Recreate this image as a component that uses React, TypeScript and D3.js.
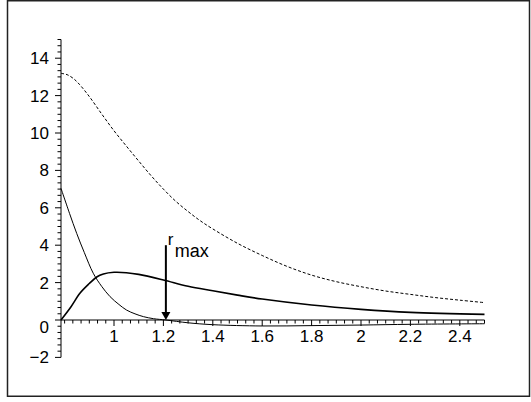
import React from "react";
import * as d3 from "d3";

const X_MIN = 0.7854;
const X_MAX = 2.5;
const Y_MIN = -2;
const Y_MAX = 15;

const xMajorTicks = [1, 1.2, 1.4, 1.6, 1.8, 2, 2.2, 2.4];
const xTickLabels = ["1", "1.2", "1.4", "1.6", "1.8", "2", "2.2", "2.4"];
const yMajorTicks = [-2, 0, 2, 4, 6, 8, 10, 12, 14];
const yTickLabels = ["\u22122", "0", "2", "4", "6", "8", "10", "12", "14"];

// dashed curve
const dashedX = [0.7854, 0.81, 0.835, 0.86, 0.9, 0.95, 1.0, 1.05, 1.1, 1.15, 1.2, 1.25, 1.3, 1.35, 1.4, 1.5, 1.6, 1.7, 1.8, 1.9, 2.0, 2.1, 2.2, 2.3, 2.4, 2.5];
const dashedY = [13.19, 13.12, 12.92, 12.6, 11.95, 11.02, 10.12, 9.3, 8.5, 7.72, 7.0, 6.35, 5.8, 5.3, 4.87, 4.1, 3.45, 2.87, 2.4, 2.05, 1.78, 1.55, 1.37, 1.2, 1.06, 0.93];

// thin solid curve (decaying, crosses zero at r_max)
const thinX = [0.7854, 0.82, 0.849, 0.88, 0.916, 0.95, 0.984, 1.02, 1.051, 1.085, 1.119, 1.16, 1.21, 1.3, 1.4, 1.6, 1.8, 2.0, 2.2, 2.5];
const thinY = [7.04, 5.7, 4.63, 3.6, 2.5, 1.8, 1.25, 0.83, 0.53, 0.33, 0.18, 0.07, 0.0, -0.15, -0.25, -0.32, -0.3, -0.27, -0.23, -0.2];

// thick solid curve (peak near 1)
const thickX = [0.7854, 0.826, 0.862, 0.9, 0.93, 0.957, 1.0, 1.05, 1.1, 1.2, 1.3, 1.4, 1.5, 1.6, 1.8, 2.0, 2.2, 2.5];
const thickY = [0, 0.71, 1.43, 1.95, 2.3, 2.46, 2.55, 2.53, 2.44, 2.14, 1.8, 1.56, 1.33, 1.12, 0.8, 0.57, 0.41, 0.3];

const arrowX = [1.21];
const arrowY = [4.0, 0];

const W = 531;
const H = 402;

export default function App() {
  const x = d3.scaleLinear().domain([X_MIN, X_MAX]).range([61, 484.5]);
  const y = d3.scaleLinear().domain([Y_MIN, Y_MAX]).range([357.4, 39.5]);

  const line = d3
    .line<[number, number]>()
    .x((d) => x(d[0]))
    .y((d) => y(d[1]))
    .curve(d3.curveCatmullRom.alpha(0.5));

  const zip = (a: number[], b: number[]) => a.map((v, i) => [v, b[i]] as [number, number]);

  const xMinor: number[] = [];
  for (let k = 24; k <= 75; k++) {
    const v = k / 30;
    if (v >= X_MIN - 1e-6 && v <= X_MAX + 1e-6) xMinor.push(v);
  }
  const yMinor: number[] = [];
  for (let k = -6; k <= 45; k++) yMinor.push(k / 3);

  const isMajor = (v: number, majors: number[]) => majors.some((m) => Math.abs(m - v) < 1e-6);

  const ax = x(arrowX[0]);
  const ay0 = y(arrowY[0]);
  const ay1 = y(arrowY[1]);

  const font = "'Liberation Sans', Arial, Helvetica, sans-serif";

  return (
    <svg
      width={W}
      height={H}
      style={{ position: "fixed", left: 0, top: 0, background: "#fff" }}
      fontFamily={font}
    >
      <rect x={7.5} y={0.75} width={522} height={395.5} fill="none" stroke="#222" strokeWidth={1.5} />

      {/* axes */}
      <line x1={x(X_MIN)} x2={x(X_MAX)} y1={y(0)} y2={y(0)} stroke="#000" strokeWidth={1} />
      <line x1={x(X_MIN)} x2={x(X_MIN)} y1={y(Y_MIN)} y2={y(Y_MAX)} stroke="#000" strokeWidth={1} />

      {xMinor.map((v, i) => {
        const major = isMajor(v, xMajorTicks);
        return (
          <line
            key={"xt" + i}
            x1={x(v)}
            x2={x(v)}
            y1={y(0)}
            y2={y(0) + (major ? 6 : 3.5)}
            stroke="#000"
            strokeWidth={1}
          />
        );
      })}
      {yMinor.map((v, i) => {
        const major = isMajor(v, yMajorTicks);
        return (
          <line
            key={"yt" + i}
            x1={x(X_MIN)}
            x2={x(X_MIN) - (major ? 6 : 3.5)}
            y1={y(v)}
            y2={y(v)}
            stroke="#000"
            strokeWidth={1}
          />
        );
      })}

      {xMajorTicks.map((v, i) => (
        <text key={"xl" + i} x={x(v)} y={y(0) + 22} textAnchor="middle" fontSize={17} fill="#000">
          {xTickLabels[i]}
        </text>
      ))}
      {yMajorTicks.map((v, i) => (
        <text
          key={"yl" + i}
          x={49}
          y={y(v) + (v === 0 ? 13 : 6)}
          textAnchor="end"
          fontSize={17}
          fill="#000"
        >
          {yTickLabels[i]}
        </text>
      ))}

      {/* curves */}
      <path d={line(zip(dashedX, dashedY)) || ""} fill="none" stroke="#000" strokeWidth={1} strokeDasharray="3,2" />
      <path d={line(zip(thinX, thinY)) || ""} fill="none" stroke="#000" strokeWidth={1} />
      <path d={line(zip(thickX, thickY)) || ""} fill="none" stroke="#000" strokeWidth={1.6} />

      {/* arrow */}
      <line x1={ax} x2={ax} y1={ay0} y2={ay1 - 7} stroke="#000" strokeWidth={2} />
      <path d={`M${ax - 4.5},${ay1 - 8} L${ax + 4.5},${ay1 - 8} L${ax},${ay1} Z`} fill="#000" />
      <text x={ax + 2} y={ay0} fontSize={17} fill="#000">r</text>
      <text x={ax + 9} y={ay0 + 12} fontSize={18} fill="#000">max</text>
    </svg>
  );
}
